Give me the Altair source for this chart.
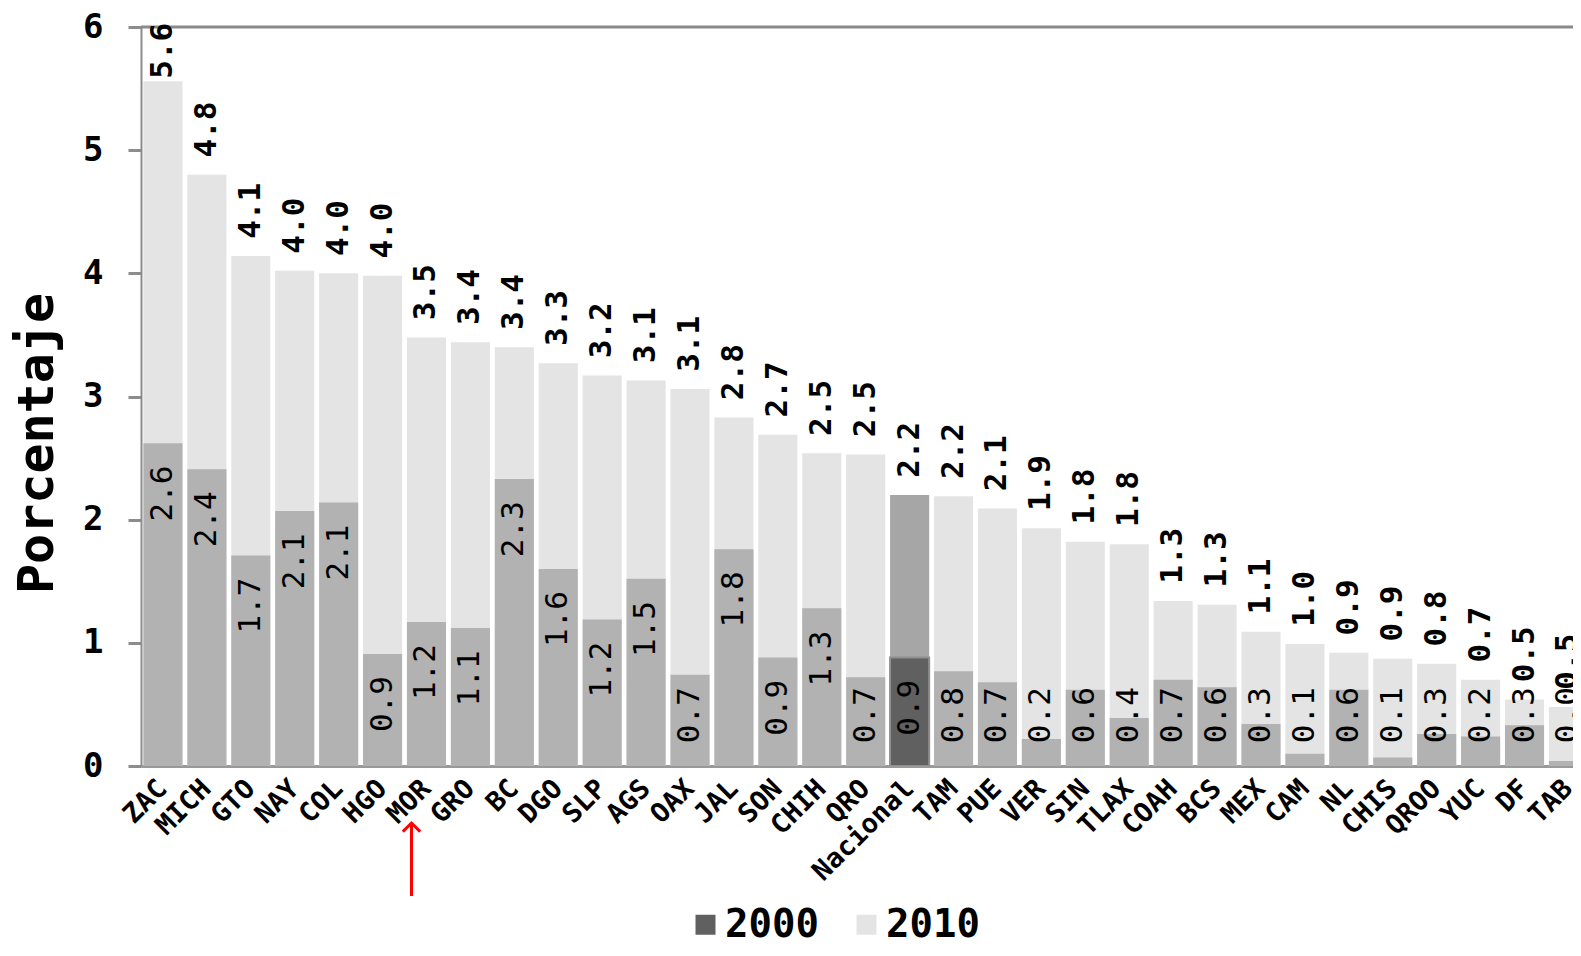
import altair as alt
import pandas as pd

estados = ["ZAC", "MICH", "GTO", "NAY", "COL", "HGO", "MOR", "GRO", "BC", "DGO",
           "SLP", "AGS", "OAX", "JAL", "SON", "CHIH", "QRO", "Nacional", "TAM", "PUE",
           "VER", "SIN", "TLAX", "COAH", "BCS", "MEX", "CAM", "NL", "CHIS", "QROO",
           "YUC", "DF", "TAB"]
v2010 = [5.56, 4.80, 4.14, 4.02, 4.00, 3.98, 3.48, 3.44, 3.40, 3.27,
         3.17, 3.13, 3.06, 2.83, 2.69, 2.54, 2.53, 2.20, 2.19, 2.09,
         1.93, 1.82, 1.80, 1.34, 1.31, 1.09, 0.99, 0.92, 0.87, 0.83,
         0.70, 0.54, 0.48]
v2000 = [2.62, 2.41, 1.71, 2.07, 2.14, 0.91, 1.17, 1.12, 2.33, 1.60,
         1.19, 1.52, 0.74, 1.76, 0.88, 1.28, 0.72, 0.88, 0.77, 0.68,
         0.22, 0.62, 0.39, 0.70, 0.64, 0.34, 0.10, 0.62, 0.07, 0.26,
         0.24, 0.33, 0.04]
flecha = ["MOR"]

df = pd.DataFrame({"estado": estados, "v2010": v2010, "v2000": v2000})
df["c2010"] = ["2010n" if e == "Nacional" else "2010" for e in estados]
df["c2000"] = ["2000" if e == "Nacional" else "2000e" for e in estados]

MONO = "DejaVu Sans Mono"
W = 1432

xscale = alt.Scale(range=[0, 1449.4], paddingInner=0.11, paddingOuter=0.055)
xaxis = alt.Axis(title=None, labelAngle=-45, labelAlign="right", labelBaseline="middle",
                 labelFont=MONO, labelFontSize=27, labelFontWeight="bold",
                 labelColor="black", labelPadding=18, ticks=False,
                 domainColor="#999999", domainWidth=3, labelOverlap=False)
X = alt.X("estado:N", sort=estados, scale=xscale, axis=xaxis)

yscale = alt.Scale(domain=[0, 6], nice=False)
yaxis = alt.Axis(title="Porcentaje", values=[0, 1, 2, 3, 4, 5, 6], format="d", grid=False,
                 labelFont=MONO, labelFontSize=34, labelFontWeight="bold", labelColor="black",
                 labelPadding=25, tickSize=13, tickWidth=3, tickColor="#8c8c8c",
                 domainColor="#8c8c8c", domainWidth=2,
                 titleFont=MONO, titleFontSize=50, titleFontWeight="bold",
                 titleColor="black", titleAngle=270, titleX=-104, titleY=416,
                 titleAlign="center", titleBaseline="middle")

cscale = alt.Scale(domain=["2000", "2010", "2000e", "2010n"],
                   range=["#606060", "#e4e4e4", "#b2b2b2", "#a6a6a6"])
legend = alt.Legend(values=["2000", "2010"], orient="none", legendX=545, legendY=878,
                    direction="horizontal", title=None, symbolType="square",
                    symbolSize=400, symbolStrokeWidth=0, symbolOpacity=1,
                    labelFont=MONO, labelFontSize=39, labelFontWeight="bold",
                    labelColor="black", columnPadding=28, labelOffset=0)

base = alt.Chart(df)

bars2010 = base.mark_bar(clip=True).encode(
    x=X,
    y=alt.Y("v2010:Q", scale=yscale, axis=yaxis),
    color=alt.Color("c2010:N", scale=cscale, legend=legend),
)
bars2000 = base.mark_bar(clip=True, stroke="#8f8f8f").encode(
    x=X,
    y=alt.Y("v2000:Q", scale=yscale),
    color=alt.Color("c2000:N", scale=cscale, legend=legend),
    strokeWidth=alt.condition("datum.estado == 'Nacional'", alt.value(2), alt.value(0)),
)

top_rule = alt.Chart(pd.DataFrame({"t": [6]})).mark_rule(color="#8a8a8a", strokeWidth=3).encode(
    y=alt.Y("t:Q", scale=yscale), x=alt.value(0), x2=alt.value(W)
)

t2010 = base.transform_calculate(ty="min(datum.v2010 + 0.14, 5.58)").mark_text(
    angle=270, align="left", baseline="middle", font=MONO, fontSize=31,
    fontWeight="bold", color="black"
).encode(x=X, y=alt.Y("ty:Q", scale=yscale), text=alt.Text("v2010:Q", format=".1f"))

t2000 = base.transform_calculate(ty="max(datum.v2000 - 0.18, 0.64)").mark_text(
    angle=270, align="right", baseline="middle", font=MONO, fontSize=31,
    fontWeight="normal", color="black"
).encode(x=X, y=alt.Y("ty:Q", scale=yscale), text=alt.Text("v2000:Q", format=".1f"))

arrow_df = pd.DataFrame({"estado": flecha})
arrow_line = alt.Chart(arrow_df).mark_rule(color="#ff0000", strokeWidth=3, xOffset=-15).encode(
    x=X, y=alt.value(797), y2=alt.value(869)
)
arrow_head = alt.Chart(arrow_df).mark_point(
    shape="M-1,1L0,0L1,1", filled=False, color="#ff0000", strokeWidth=3,
    size=300, opacity=1, xOffset=-15
).encode(x=X, y=alt.value(796))

chart = alt.layer(bars2010, bars2000, top_rule, t2010, t2000, arrow_line, arrow_head).properties(
    width=W, height=739,
    autosize=alt.AutoSizeParams(type="none"),
    padding={"left": 133, "top": 19, "right": 0, "bottom": 172},
).configure_view(stroke=None).configure(background="white")

chart.save("out.html", embed_options={"renderer": "svg", "actions": False})
